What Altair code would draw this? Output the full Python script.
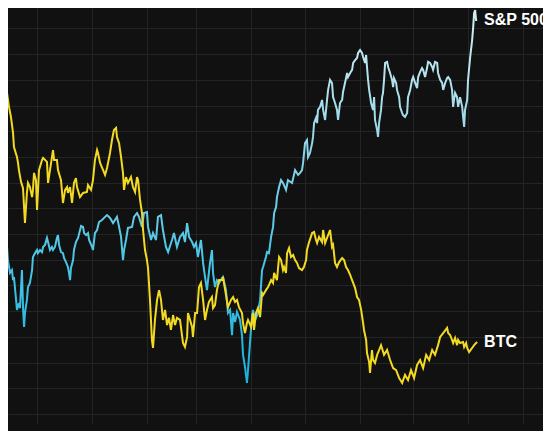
import altair as alt
import pandas as pd

START = pd.Timestamp("2022-12-01")

# ---- BTC: days since 2022-12-01, index value ----
btc_day = [
    -20.6, -18.9, -17.7, -16.6, -15.5, -14.4, -13.2, -12.7, -11.0, -10.4,
    -9.9, -8.7, -7.6, -7.0, -6.5, -5.4, -4.8, -3.7, -2.5, -2.0,
    -1.4, -0.3, 0.3, 1.4, 3.1, 3.7, 5.9, 6.5, 7.6, 9.3,
    9.9, 11.5, 12.1, 13.8, 14.9, 16.1, 17.2, 17.7, 18.9, 20.0,
    21.1, 22.2, 22.8, 24.5, 26.2, 28.4, 29.0, 30.7, 31.8, 32.9,
    34.1, 34.6, 35.8, 37.5, 38.6, 39.7, 41.4, 42.5, 43.6, 44.8,
    45.3, 46.5, 47.6, 48.7, 49.3, 50.4, 51.5, 53.2, 54.3, 55.5,
    56.6, 57.2, 58.3, 59.4, 60.0, 61.1, 62.2, 62.8, 63.9, 65.0,
    65.6, 66.7, 67.9, 69.0, 70.1, 71.2, 72.4, 73.5, 74.6, 75.7,
    76.9, 78.0, 79.1, 80.8, 82.5, 83.6, 84.8, 85.3, 87.6, 88.1,
    89.3, 90.4, 91.5, 92.6, 93.8, 94.9, 96.0, 97.1, 98.8, 99.4,
    100.5, 101.6, 102.8, 104.5, 105.0, 106.7, 107.8, 109.5, 110.7, 111.8,
    112.9, 114.0, 115.7, 116.3, 117.4, 118.5, 119.1, 120.8, 121.9, 122.5,
    123.6, 124.7, 125.9, 127.0, 127.6, 129.2, 130.4, 132.1, 133.2, 133.8,
    135.4, 136.6, 137.7, 138.8, 139.4, 140.5, 141.1, 142.2, 143.3, 144.5,
    145.6, 146.7, 147.8, 149.5, 150.6, 151.8, 152.3, 153.5, 155.2, 156.3,
    157.4, 158.0, 159.1, 160.8, 161.4, 162.5, 163.6, 165.3, 166.4, 167.0,
    168.1, 169.2, 170.4, 172.1, 173.2, 174.3, 175.4, 176.6, 177.7, 178.3,
    179.4, 180.5, 181.6, 182.8, 183.9, 184.4, 185.6, 186.1, 187.3, 187.8,
    188.9, 189.5, 190.6, 191.8, 192.9, 194.0, 195.7, 197.4, 199.1, 200.8,
    202.5, 204.2, 205.9, 207.5, 209.2, 210.9, 212.6, 214.3, 216.0, 217.7,
    219.4, 221.1, 222.8, 224.4, 226.1, 227.3, 229.0, 231.2, 231.8, 232.9,
    234.0, 234.6, 235.7, 236.8, 237.4, 238.5, 240.2, 240.8, 241.9, 242.5,
    243.6, 245.3, 246.4, 248.1,
]
btc_val = [
    123.3, 132.7, 125.3, 124.9, 119.5, 115.6, 109.3, 103.9, 100.0, 97.7,
    94.9, 90.3, 87.9, 80.5, 74.3, 86.0, 89.9, 88.3, 84.4, 87.2,
    93.8, 91.0, 79.4, 94.9, 98.8, 99.6, 98.1, 89.9, 94.9, 102.7,
    98.8, 98.8, 94.9, 91.0, 82.1, 87.2, 88.3, 86.0, 88.3, 82.1,
    89.9, 91.8, 88.3, 84.4, 86.0, 86.4, 89.1, 87.2, 91.0, 98.8,
    102.7, 101.6, 97.7, 94.9, 93.0, 95.7, 101.6, 106.6, 110.5, 111.3,
    107.8, 105.4, 100.0, 93.8, 87.2, 92.2, 89.9, 92.2, 88.3, 86.4,
    92.2, 91.0, 83.3, 78.2, 71.6, 63.8, 59.9, 56.8, 44.4, 28.8,
    25.7, 36.6, 44.4, 48.2, 44.4, 36.6, 40.5, 34.6, 37.4, 32.7,
    38.5, 34.6, 37.4, 36.6, 27.6, 26.1, 30.0, 39.3, 33.9, 30.0,
    39.3, 39.3, 49.4, 51.0, 44.4, 36.6, 40.5, 43.6, 45.5, 41.2,
    42.4, 48.2, 52.1, 52.1, 53.3, 46.3, 41.6, 44.4, 45.5, 43.6,
    44.4, 41.6, 39.3, 35.4, 31.5, 35.4, 36.6, 33.9, 39.3, 32.7,
    39.3, 41.2, 37.7, 47.1, 46.3, 48.2, 49.4, 52.1, 51.0, 54.9,
    52.1, 61.1, 59.9, 56.0, 57.2, 54.9, 62.6, 64.6, 61.1, 61.9,
    59.9, 58.8, 56.8, 56.0, 57.2, 59.9, 63.8, 66.9, 70.4, 70.8,
    67.7, 66.5, 68.9, 66.9, 71.6, 66.5, 68.5, 71.6, 65.0, 65.8,
    58.8, 57.2, 59.1, 60.7, 59.9, 57.2, 56.0, 54.1, 52.1, 51.0,
    49.0, 45.5, 44.4, 40.5, 35.4, 32.7, 28.8, 23.7, 20.2, 16.0,
    24.9, 21.0, 19.8, 23.0, 24.9, 26.8, 23.0, 24.9, 21.0, 17.9,
    17.1, 14.0, 12.1, 15.2, 13.2, 17.1, 14.0, 19.1, 21.0, 17.9,
    23.0, 21.0, 24.9, 23.0, 26.8, 30.0, 31.5, 33.5, 31.5, 30.7,
    28.8, 27.6, 29.6, 26.8, 28.8, 27.6, 28.0, 26.1, 27.6, 25.7,
    24.1, 25.7, 26.8, 28.0,
]

# ---- S&P 500: days since 2022-12-01, index value ----
spx_day = [
    -20.6, -20.0, -18.9, -17.7, -16.6, -16.1, -14.9, -13.8, -13.2, -12.7,
    -11.5, -11.0, -9.9, -9.3, -8.2, -7.6, -7.0, -6.5, -5.4, -4.8,
    -3.7, -2.5, -2.0, -0.8, 0.3, 0.8, 2.0, 3.1, 3.7, 4.8,
    5.9, 6.5, 7.6, 8.7, 9.3, 10.4, 11.5, 12.1, 12.7, 13.8,
    14.9, 15.5, 16.6, 17.7, 18.3, 18.9, 19.4, 20.6, 21.1, 22.2,
    23.4, 25.1, 26.2, 26.8, 27.9, 29.0, 29.6, 31.3, 31.8, 32.9,
    34.1, 35.2, 36.9, 38.6, 39.7, 41.4, 43.1, 44.2, 45.3, 46.5,
    47.6, 48.7, 49.3, 50.4, 51.5, 53.8, 54.9, 56.6, 57.7, 59.4,
    60.5, 62.2, 62.8, 64.5, 65.6, 67.3, 68.4, 70.1, 71.2, 72.9,
    74.1, 76.3, 77.4, 79.1, 80.8, 82.5, 83.6, 84.8, 85.9, 87.6,
    88.7, 89.8, 90.9, 92.6, 93.8, 94.9, 96.0, 96.6, 97.7, 98.8,
    99.4, 100.5, 101.6, 102.8, 104.5, 105.0, 106.7, 107.8, 109.0, 110.1,
    110.7, 111.8, 112.9, 114.6, 115.7, 116.3, 117.4, 118.5, 119.1, 120.2,
    121.4, 121.9, 123.1, 124.2, 124.7, 125.9, 127.0, 127.6, 129.2, 129.8,
    130.9, 132.1, 133.2, 133.8, 134.9, 135.4, 136.6, 137.7, 138.8, 140.5,
    141.6, 143.9, 145.6, 147.3, 148.4, 149.5, 150.1, 151.2, 152.3, 152.9,
    154.0, 155.2, 155.7, 156.3, 157.4, 158.0, 158.5, 159.7, 160.8, 161.4,
    162.5, 163.6, 164.2, 165.3, 166.4, 167.0, 168.1, 169.2, 169.8, 170.9,
    172.1, 172.6, 173.7, 174.9, 175.4, 176.6, 177.7, 178.3, 179.4, 180.5,
    181.1, 182.2, 183.3, 183.9, 185.0, 185.6, 186.1, 186.7, 187.3, 188.4,
    189.5, 190.1, 190.6, 191.8, 192.3, 192.9, 194.0, 194.6, 195.1, 195.7,
    196.3, 197.4, 198.0, 199.1, 200.2, 200.8, 201.3, 202.5, 203.0, 204.2,
    204.7, 205.9, 206.4, 207.5, 208.7, 209.2, 210.4, 211.5, 212.1, 213.2,
    214.3, 214.9, 216.0, 217.1, 217.7, 218.8, 219.9, 220.5, 221.6, 222.8,
    223.3, 224.4, 225.6, 226.1, 227.3, 228.4, 229.0, 230.1, 231.2, 231.8,
    232.9, 234.0, 234.6, 235.1, 235.7, 236.8, 237.4, 238.5, 239.7, 240.2,
    240.8, 241.3, 242.5, 243.0, 244.2, 245.3, 245.9, 246.4, 247.0, 247.5,
    248.1,
]
spx_val = [
    47.5, 59.9, 63.0, 64.6, 65.0, 59.9, 54.9, 56.0, 52.1, 53.3,
    44.4, 40.5, 43.2, 41.2, 56.0, 41.6, 33.9, 39.3, 44.4, 49.4,
    51.0, 56.0, 61.1, 62.6, 63.8, 62.6, 63.8, 63.0, 65.0, 65.8,
    68.5, 66.9, 63.8, 65.0, 63.8, 65.0, 68.5, 69.6, 65.8, 63.0,
    62.6, 60.7, 59.1, 57.2, 54.9, 52.1, 56.8, 59.9, 63.8, 66.9,
    68.5, 73.2, 72.8, 70.4, 69.6, 70.4, 67.7, 65.0, 63.8, 70.4,
    71.6, 74.7, 75.5, 76.7, 77.4, 76.3, 74.3, 75.5, 76.7, 72.8,
    68.9, 59.9, 63.8, 67.7, 72.4, 72.8, 76.7, 78.2, 76.7, 72.8,
    78.2, 78.6, 72.8, 67.7, 70.4, 67.7, 76.7, 77.4, 71.6, 65.0,
    63.0, 67.7, 70.4, 65.0, 68.9, 70.4, 66.9, 74.3, 68.9, 66.9,
    65.0, 66.5, 61.1, 67.7, 58.8, 53.3, 48.2, 52.1, 58.8, 63.8,
    54.9, 49.4, 52.1, 51.0, 52.9, 53.3, 48.2, 39.3, 40.5, 30.7,
    39.3, 35.8, 39.7, 36.6, 30.7, 23.0, 18.3, 12.1, 17.1, 27.6,
    38.5, 40.5, 36.6, 38.5, 39.7, 44.4, 56.0, 57.2, 61.1, 63.0,
    62.6, 68.9, 72.8, 78.2, 80.5, 84.4, 88.3, 91.0, 89.9, 87.2,
    91.0, 89.9, 94.9, 93.0, 93.8, 94.9, 97.7, 105.4, 106.6, 100.0,
    101.6, 105.4, 107.8, 113.2, 115.2, 113.2, 118.3, 119.5, 122.2, 118.3,
    114.4, 122.2, 126.1, 130.0, 128.8, 123.3, 121.0, 118.3, 114.4, 121.0,
    122.2, 125.3, 128.8, 132.7, 131.1, 132.7, 133.9, 136.6, 137.7, 138.5,
    140.5, 141.6, 140.5, 138.9, 136.6, 139.7, 135.0, 130.0, 126.1, 121.0,
    118.3, 123.3, 114.4, 110.5, 107.8, 113.2, 118.3, 123.3, 124.9, 130.0,
    136.6, 137.0, 135.0, 132.7, 130.0, 127.2, 130.7, 128.8, 126.1, 123.3,
    119.5, 117.1, 116.3, 115.6, 117.1, 123.3, 126.1, 130.0, 131.1, 128.8,
    126.8, 131.1, 133.1, 134.6, 133.9, 131.1, 134.6, 137.0, 136.6, 135.0,
    133.9, 137.0, 136.6, 132.7, 130.0, 128.8, 126.1, 128.8, 130.7, 131.1,
    130.0, 126.1, 119.5, 122.2, 124.9, 123.3, 119.5, 123.3, 119.5, 115.6,
    111.7, 118.3, 122.2, 130.0, 138.9, 145.5, 150.6, 156.0, 157.2, 153.3,
    153.3,
]

grid_values = [0, 10, 20, 30, 40, 50, 60, 70, 80, 90, 100, 110, 120, 130, 140, 150]


def frame(days, vals, name):
    return pd.DataFrame({
        "date": START + pd.to_timedelta(days, unit="D"),
        "value": vals,
        "series": name,
    })


spx = frame(spx_day, spx_val, "S&P 500")
btc = frame(btc_day, btc_val, "BTC")
labels = pd.concat([spx.tail(1), btc.tail(1)], ignore_index=True)

GRID = "#242424"

x_enc = alt.X(
    "date:T",
    scale=alt.Scale(
        domain=[
            alt.DateTime(year=2022, month=11, date=14, hours=22, minutes=48),
            alt.DateTime(year=2023, month=9, date=12, hours=4, minutes=48),
        ]
    ),
    axis=alt.Axis(
        title=None,
        grid=True,
        gridColor=GRID,
        gridWidth=1,
        domain=False,
        ticks=False,
        labelPadding=6,
        labelFontSize=11,
        labelFont="Liberation Sans",
        labelColor="#8a8a8a",
        tickCount=alt.TimeIntervalStep(interval="month", step=1),
        labelExpr="month(datum.value) == 0 ? timeFormat(datum.value, '%Y') : timeFormat(datum.value, '%b')",
    ),
)
y_enc = alt.Y(
    "value:Q",
    scale=alt.Scale(domain=[-3.5, 157.97], nice=False, zero=False),
    axis=alt.Axis(
        title=None,
        grid=True,
        gridColor=GRID,
        gridWidth=1,
        domain=False,
        ticks=False,
        labels=False,
        values=grid_values,
    ),
)

spx_line = alt.Chart(spx).mark_line(
    strokeWidth=2,
    clip=True,
    color=alt.Gradient(
        gradient="linear",
        stops=[
            alt.GradientStop(color="#16b2de", offset=0),
            alt.GradientStop(color="#4cc6e6", offset=0.35),
            alt.GradientStop(color="#9fdae9", offset=0.7),
            alt.GradientStop(color="#d2eff5", offset=1),
        ],
        x1=0, x2=0, y1=1, y2=0,
    ),
).encode(x=x_enc, y=y_enc)

btc_line = alt.Chart(btc).mark_line(
    strokeWidth=2, clip=True, color="#f3da22"
).encode(x=x_enc, y=y_enc)

text = alt.Chart(labels).mark_text(
    align="left",
    baseline="middle",
    dx=7,
    font="Liberation Sans",
    fontSize=16,
    fontWeight="bold",
    color="#ffffff",
).encode(x=x_enc, y=y_enc, text="series:N")

chart = (
    alt.layer(spx_line, btc_line, text)
    .properties(
        width=535,
        height=415,
        autosize=alt.AutoSizeParams(type="none"),
        padding={"left": 0, "top": 0, "right": 0, "bottom": 30},
        background="#111111",
    )
    .configure_view(strokeWidth=0)
)

chart.save("out.html", embed_options={"renderer": "svg", "actions": False})
